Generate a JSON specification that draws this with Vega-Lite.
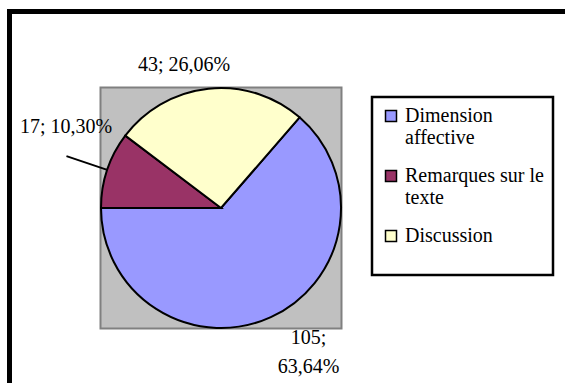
{
  "$schema": "https://vega.github.io/schema/vega-lite/v6.json",
  "width": 240,
  "height": 240,
  "autosize": "none",
  "padding": {"left": 101, "top": 88, "right": 224, "bottom": 55},
  "background": "white",
  "config": {
    "view": {"stroke": null},
    "font": "Liberation Serif",
    "text": {"font": "Liberation Serif", "fontSize": 20, "color": "black"},
    "legend": {
      "labelFont": "Liberation Serif", "labelFontSize": 20, "labelLineHeight": 25, "labelColor": "black",
      "labelOffset": 4, "labelLimit": 300,
      "symbolType": "square", "symbolSize": 121, "symbolStrokeColor": "black", "symbolStrokeWidth": 1.5, "symbolOpacity": 1,
      "strokeColor": "black", "strokeWidth": 2.5, "padding": 9, "rowPadding": 18,
      "titleFont": "Liberation Serif", "titleFontSize": 14, "titlePadding": 6, "titleOrient": "bottom"
    }
  },
  "data": {
    "values": [
      {"cat": "Dimension affective", "ord": 1, "n": 105, "label": "105; 63,64%"},
      {"cat": "Remarques sur le texte", "ord": 2, "n": 17, "label": "17; 10,30%"},
      {"cat": "Discussion", "ord": 3, "n": 43, "label": "43; 26,06%"}
    ]
  },
  "encoding": {
    "theta": {"field": "n", "type": "quantitative", "stack": true, "scale": {"range": [0.7139, 6.9971]}},
    "order": {"field": "ord", "type": "quantitative"}
  },
  "layer": [
    {
      "data": {"values": [{"frame": 1}]},
      "mark": {"type": "rect", "x": -91.5, "y": -76.5, "x2": 480, "y2": 320, "filled": false, "stroke": "black", "strokeWidth": 5},
      "encoding": {"theta": null, "order": null}
    },
    {
      "data": {"values": [{"plotArea": 1}]},
      "mark": {"type": "point", "shape": "square", "size": 58081, "filled": true, "fill": "#C0C0C0", "opacity": 1, "stroke": "#808080", "strokeWidth": 2},
      "encoding": {"theta": null, "order": null}
    },
    {
      "mark": {"type": "arc", "radius": 120, "stroke": "black", "strokeWidth": 2},
      "encoding": {
        "color": {
          "field": "cat", "type": "nominal",
          "scale": {"domain": ["Dimension affective", "Remarques sur le texte", "Discussion"], "range": ["#9999FF", "#993366", "#FFFFCC"]},
          "legend": {
            "orient": "none", "legendX": 271, "legendY": 9,
            "title": " ",
            "labelExpr": "datum.label == 'Dimension affective' ? ['Dimension', 'affective'] : datum.label == 'Remarques sur le texte' ? ['Remarques sur le', 'texte'] : datum.label",
            "encode": {
              "symbols": {"update": {"size": {"value": 121}, "stroke": {"value": "black"}, "strokeWidth": {"value": 1.5}}}
            }
          }
        }
      }
    },
    {
      "mark": {"type": "arc", "radius": 163, "radius2": 120, "padAngle": 1.2, "fill": null, "stroke": "black", "strokeWidth": 2},
      "encoding": {
        "strokeOpacity": {"condition": {"test": "datum.cat == 'Remarques sur le texte'", "value": 1}, "value": 0}
      }
    },
    {
      "mark": {"type": "text", "radius": 143, "dx": -22, "dy": -1, "align": "center", "baseline": "middle"},
      "encoding": {"text": {"condition": {"test": "datum.cat == 'Discussion'", "field": "label"}, "value": ""}}
    },
    {
      "mark": {"type": "text", "radius": 175, "dx": 11, "dy": -25, "align": "center", "baseline": "middle"},
      "encoding": {"text": {"condition": {"test": "datum.cat == 'Remarques sur le texte'", "field": "label"}, "value": ""}}
    },
    {
      "mark": {"type": "text", "radius": 160, "dx": 21, "dy": -16, "align": "center", "baseline": "middle", "lineBreak": " ", "lineHeight": 29},
      "encoding": {"text": {"condition": {"test": "datum.cat == 'Dimension affective'", "field": "label"}, "value": ""}}
    }
  ]
}
